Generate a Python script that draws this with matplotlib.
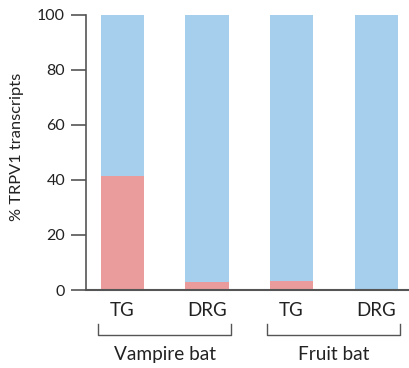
import matplotlib
matplotlib.use("Agg")
import matplotlib.pyplot as plt
import matplotlib.transforms as mtransforms
import numpy as np

tissues = ["TG", "DRG", "TG", "DRG"]
groups = ["Vampire bat", "Fruit bat"]
red_values = [41.5, 2.9, 3.3, 0.0]
total = [100, 100, 100, 100]
yticks = [0, 20, 40, 60, 80, 100]

RED = "#EA9C9D"
BLUE = "#A5CFED"
AXC = "#555555"
TXT = "#222222"

plt.rcParams['font.family'] = ['Lato', 'DejaVu Sans']

fig = plt.figure(figsize=(4.10, 3.68), dpi=100)
ax = fig.add_axes([86/410, 1-290/368, (410-86)/410, 275/368])

x = np.arange(len(tissues))
blue_values = [t - r for t, r in zip(total, red_values)]
ax.bar(x, red_values, width=0.51, color=RED, linewidth=0)
ax.bar(x, blue_values, bottom=red_values, width=0.51, color=BLUE, linewidth=0)

ax.set_ylim(0, 100)
ax.set_xlim(-0.43, 3.40)
ax.set_yticks(yticks)
ax.set_yticklabels([str(v) for v in yticks], fontsize=11.5, color=TXT)
ax.set_xticks([])
ax.tick_params(axis='y', length=11, width=1.2, color=AXC, pad=4)
for s in ["top", "right"]:
    ax.spines[s].set_visible(False)
ax.spines["left"].set_color(AXC)
ax.spines["bottom"].set_color(AXC)
ax.spines["left"].set_linewidth(1.2)
ax.spines["bottom"].set_linewidth(1.5)
ax.set_ylabel("% TRPV1 transcripts", fontsize=11.8, color=TXT)
ax.yaxis.set_label_coords(-0.19, 0.52)

trans = mtransforms.blended_transform_factory(ax.transData, ax.transAxes)
for xi, t in zip(x, tissues):
    ax.text(xi, -0.075, t, transform=trans, ha="center", va="center",
            fontsize=13.5, color=TXT)

for gi, g in enumerate(groups):
    x0 = x[2*gi] - 0.285
    x1 = x[2*gi+1] + 0.285
    ax.plot([x0, x0, x1, x1], [-0.124, -0.164, -0.164, -0.124], transform=trans,
            color=AXC, lw=1.0, clip_on=False)
    ax.text((x0 + x1)/2, -0.236, g, transform=trans, ha="center", va="center",
            fontsize=13.7, color=TXT)

fig.savefig("out.png", dpi=100)
